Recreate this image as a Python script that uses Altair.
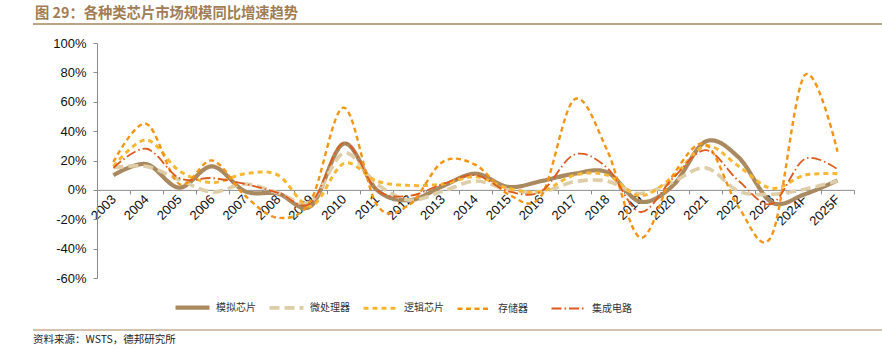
import altair as alt
import pandas as pd

years = ['2003', '2004', '2005', '2006', '2007', '2008', '2009', '2010', '2011', '2012',
         '2013', '2014', '2015', '2016', '2017', '2018', '2019', '2020', '2021', '2022',
         '2023', '2024F', '2025F']

series_names = ['模拟芯片', '微处理器', '逻辑芯片', '存储器', '集成电路']

analog = [10, 17.5, 1.5, 16, -1, -2.5, -11, 31.5, 0, -7, 2.5, 11, 2, 6, 11, 12, -8, 3, 33, 22, -8.5, -3, 6.5]
micro = [15, 16, 7, -1.5, 4, -2, -8, 25, 4, -7, -1, 6, 0, -1.5, 5.5, 6, -2.5, 5.5, 15, -1, -3, 0.5, 6]
logic = [16, 34, 13, 5, 11, 10, -11, 18, 6, 3, 4, 9, 1, -1, 10, 10, -4, 9, 30, 16, 1, 10, 11]
memory = [19, 45, 4, 20, -4, -19, -7, 56, -10, -10, 19, 17, -3, -4, 61.5, 27, -32.5, 10, 31, -12, -31, 78, 26]
ic = [15, 28, 8, 8, 4, -2, -9, 32, 0, -4, 4, 10, -1, -1, 24, 15, -15, 8, 27, 6, -9.5, 21, 14]

y_ticks = [-60, -40, -20, 0, 20, 40, 60, 80, 100]

title_text = '图 29：各种类芯片市场规模同比增速趋势'
source_text = '资料来源：WSTS，德邦研究所'

colors = ['#A98A60', '#DDCDA8', '#F7B733', '#F39416', '#DD5A1F']
dashes = [[1, 0], [10, 5], [5, 4], [5, 3.5], [10, 3, 1.5, 3]]
widths = [4.2, 1.8, 1.5, 1.5, 1.5]

rows = []
for name, vals in zip(series_names, [analog, micro, logic, memory, ic]):
    for i, (yr, v) in enumerate(zip(years, vals)):
        rows.append({'year': yr, 'value': v, 'series': name, 'order': i})
df = pd.DataFrame(rows)

W, H = 757, 235
zero_offset = -(H * 60 / 160)

legend = alt.Legend(
    title=None, orient='none', legendX=76, legendY=245, direction='horizontal',
    columns=5, gridAlign='all', columnPadding=6, symbolType='stroke',
    symbolSize=1156, labelFont='Noto Sans CJK SC',
    labelFontSize=10, labelColor='#333333', labelOffset=4,
)

lines = alt.Chart(df).mark_line(interpolate='cardinal', tension=0).encode(
    x=alt.X('year:O', sort=years, bandPosition=0.5,
            scale=alt.Scale(type='band', domain=years, paddingInner=0, paddingOuter=0),
            axis=alt.Axis(title=None, offset=zero_offset, tickBand='extent', labelAngle=-45,
                          labelAlign='right', labelBaseline='middle', labelPadding=3,
                          labelFont='Liberation Sans', labelFontSize=13, labelColor='#111111',
                          domainColor='#8c8c8c', tickColor='#8c8c8c', tickSize=4)),
    y=alt.Y('value:Q', scale=alt.Scale(domain=[-60, 100], nice=False, zero=False),
            axis=alt.Axis(title=None, values=y_ticks, labelExpr="datum.value + '%'", grid=False,
                          labelFont='Liberation Sans', labelFontSize=13, labelColor='#111111',
                          domainColor='#8c8c8c', tickColor='#8c8c8c', tickSize=4, labelPadding=7)),
    color=alt.Color('series:N', sort=series_names,
                    scale=alt.Scale(domain=series_names, range=colors), legend=legend),
    strokeDash=alt.StrokeDash('series:N', sort=series_names,
                              scale=alt.Scale(domain=series_names, range=dashes), legend=legend),
    strokeWidth=alt.StrokeWidth('series:N', sort=series_names,
                                scale=alt.Scale(domain=series_names, range=widths), legend=legend),
    order='order:Q',
)

ann = pd.DataFrame({'t': [title_text]})
title = alt.Chart(ann).mark_text(
    align='left', baseline='middle', font='Noto Sans CJK SC', fontSize=14.3,
    fontWeight='bold', color='#A07D55'
).encode(x=alt.value(-62), y=alt.value(-29), text=alt.value(title_text))

top_rule = alt.Chart(ann).mark_rule(color='#A8865E', strokeWidth=1.5).encode(
    x=alt.value(-64), x2=alt.value(785), y=alt.value(-19))
bottom_rule = alt.Chart(ann).mark_rule(color='#A8865E', strokeWidth=1).encode(
    x=alt.value(-64), x2=alt.value(785), y=alt.value(287))
source = alt.Chart(ann).mark_text(
    align='left', baseline='middle', font='Noto Sans CJK SC', fontSize=10.5, color='#222222'
).encode(x=alt.value(-64), y=alt.value(297), text=alt.value(source_text))

chart = alt.layer(lines, title, top_rule, bottom_rule, source).properties(
    width=W, height=H,
    padding={'left': 97, 'top': 43, 'right': 28, 'bottom': 76},
    autosize=alt.AutoSizeParams(type='none'),
    background='white',
).configure_view(stroke=None)

chart.save('out.html', embed_options={'renderer': 'svg', 'actions': False})
